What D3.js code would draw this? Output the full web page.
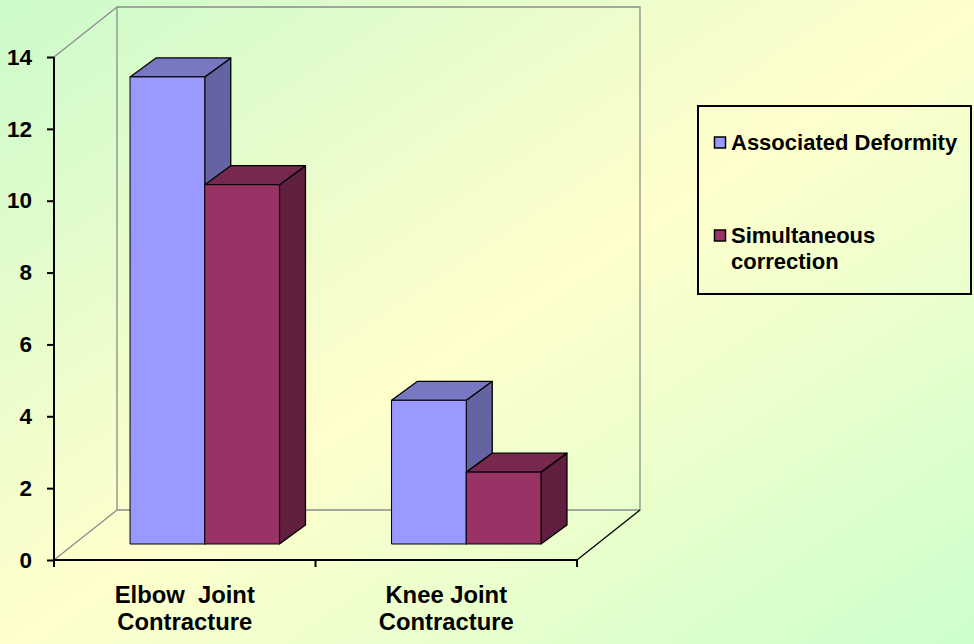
<!DOCTYPE html>
<html>
<head>
<meta charset="utf-8">
<script src="https://cdn.jsdelivr.net/npm/d3@7"></script>
<style>
  html, body { margin: 0; padding: 0; }
  svg { display: block; font-family: Arial, "Liberation Sans", sans-serif; font-weight: bold; }
</style>
</head>
<body>
<svg id="chart" width="974" height="644"></svg>
<script>
// Data
const categories = ["Elbow  Joint\nContracture", "Knee Joint\nContracture"];
const seriesNames = ["Associated Deformity", "Simultaneous correction"];
const associatedDeformity = [13, 4];
const simultaneousCorrection = [10, 2];
const yTicks = [0, 2, 4, 6, 8, 10, 12, 14];

const seriesValues = [associatedDeformity, simultaneousCorrection];
const faceColors = [
  { front: "#9999ff", top: "#7777c2", side: "#6464a2" },
  { front: "#993366", top: "#77284f", side: "#601f3e" }
];

const svg = d3.select("#chart");
const W = 974, H = 644;

// Background gradient
const defs = svg.append("defs");
const grad = defs.append("linearGradient").attr("id", "bg")
  .attr("x1", 0).attr("y1", 0).attr("x2", 1).attr("y2", 1);
grad.append("stop").attr("offset", 0).attr("stop-color", "#ccfacb");
grad.append("stop").attr("offset", 0.5).attr("stop-color", "#ffffcc");
grad.append("stop").attr("offset", 1).attr("stop-color", "#ccffcc");
svg.append("rect").attr("width", W).attr("height", H).attr("fill", "url(#bg)");

// Plot geometry (front plane)
const x0 = 54, x1 = 577, yBase = 560, yTop = 57;
const wallDX = 63, wallDY = -50;     // depth of the back wall
const barDX0 = 20, barDY0 = -16;     // bar front face depth
const barDX = 26, barDY = -19;       // bar thickness in depth

const y = d3.scaleLinear().domain([0, 14]).range([yBase, yTop]);
const x = d3.scaleBand().domain(d3.range(categories.length)).range([x0, x1]);
const xs = d3.scaleBand().domain(d3.range(seriesNames.length))
  .range([0, x.bandwidth()]).paddingOuter(0.75).paddingInner(0);

const g = svg.append("g");
const gray = "#8c8c8c";

// Back wall and floor outlines
const wall = g.append("g").attr("fill", "none").attr("stroke", gray).attr("stroke-width", 1.3);
wall.append("path").attr("d", d3.line()([
  [x0 + wallDX, y(0) + wallDY], [x0 + wallDX, y(14) + wallDY],
  [x1 + wallDX, y(14) + wallDY], [x1 + wallDX, y(0) + wallDY], [x0 + wallDX, y(0) + wallDY]
]));
wall.append("path").attr("d", d3.line()([[x0, y(14)], [x0 + wallDX, y(14) + wallDY]]));
wall.append("path").attr("d", d3.line()([[x0, y(0)], [x0 + wallDX, y(0) + wallDY]]));

// Bars
const bars = g.append("g").attr("stroke", "#000").attr("stroke-linejoin", "round");
categories.forEach((c, ci) => {
  seriesValues.forEach((vals, si) => {
    const v = vals[ci];
    const l = x(ci) + xs(si) + barDX0;
    const r = l + xs.bandwidth();
    const b = y(0) + barDY0;
    const t = y(v) + barDY0;
    const col = faceColors[si];
    bars.append("path").attr("fill", col.side).attr("stroke-width", 1.3)
      .attr("d", d3.line()([[r, b], [r + barDX, b + barDY], [r + barDX, t + barDY], [r, t]]) + "Z");
    bars.append("path").attr("fill", col.top).attr("stroke-width", 1.3)
      .attr("d", d3.line()([[l, t], [l + barDX, t + barDY], [r + barDX, t + barDY], [r, t]]) + "Z");
    bars.append("rect").attr("fill", col.front).attr("stroke-width", 1)
      .attr("x", l).attr("y", t).attr("width", r - l).attr("height", b - t);
  });
});

// Floor right edge
g.append("path").attr("fill", "none").attr("stroke", "#000").attr("stroke-width", 1.3)
  .attr("d", d3.line()([[x1, y(0)], [x1 + wallDX, y(0) + wallDY]]));

// Y axis
const yAxis = g.append("g").attr("transform", `translate(${x0},0)`)
  .call(d3.axisLeft(y).tickValues(yTicks).tickSize(7).tickPadding(15).tickFormat(d3.format("d")));
yAxis.select(".domain").attr("stroke", "#000").attr("stroke-width", 2).attr("d", `M0,${yTop}V${yBase}`);
yAxis.selectAll(".tick line").attr("stroke", "#000").attr("stroke-width", 2);
yAxis.selectAll(".tick text").attr("font-size", 22.5).attr("font-weight", "bold")
  .attr("font-family", "Arial, 'Liberation Sans', sans-serif").attr("fill", "#000");

// X axis
const xAxisG = g.append("g");
xAxisG.append("line").attr("x1", x0).attr("x2", x1).attr("y1", yBase).attr("y2", yBase)
  .attr("stroke", "#000").attr("stroke-width", 2);
const boundaries = d3.range(categories.length + 1).map(i => i < categories.length ? x(i) : x1);
xAxisG.selectAll("line.tk").data(boundaries).join("line").attr("class", "tk")
  .attr("x1", d => d).attr("x2", d => d).attr("y1", yBase).attr("y2", yBase + 7)
  .attr("stroke", "#000").attr("stroke-width", 2);

const catLabels = xAxisG.selectAll("text.cat").data(categories).join("text").attr("class", "cat")
  .attr("text-anchor", "middle").attr("font-size", 23.8).attr("fill", "#000")
  .attr("transform", (d, i) => `translate(${x(i) + x.bandwidth() / 2},603)`)
  .style("white-space", "pre");
catLabels.selectAll("tspan").data(d => d.split("\n")).join("tspan")
  .attr("x", 0).attr("dy", (d, i) => i === 0 ? 0 : 27)
  .text(d => d);

// Legend
const legend = svg.append("g");
legend.append("rect").attr("x", 698).attr("y", 106).attr("width", 273).attr("height", 188)
  .attr("fill", "none").attr("stroke", "#000").attr("stroke-width", 2);
const legendLines = [["Associated Deformity"], ["Simultaneous", "correction"]];
const legendY = [150, 243];
seriesNames.forEach((s, i) => {
  legend.append("rect").attr("x", 714.5).attr("y", legendY[i] - 13).attr("width", 11).attr("height", 11)
    .attr("fill", faceColors[i].front).attr("stroke", "#000").attr("stroke-width", 1.5);
  const t = legend.append("text").attr("x", 731).attr("y", legendY[i])
    .attr("font-size", 22).attr("fill", "#000");
  legendLines[i].forEach((ln, j) => {
    t.append("tspan").attr("x", 731).attr("dy", j === 0 ? 0 : 26).text(ln);
  });
});
</script>
</body>
</html>
